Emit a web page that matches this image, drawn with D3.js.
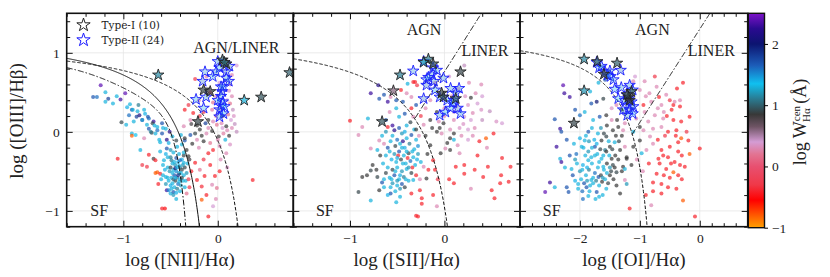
<!DOCTYPE html>
<html>
<head>
<meta charset="utf-8">
<script src="https://cdn.jsdelivr.net/npm/d3@7"></script>
<style>
body{margin:0;background:#fff;}
svg{display:block;}
text{font-family:"Liberation Serif","Times New Roman",serif;fill:#222;}
</style>
</head>
<body>
<svg id="chart" width="830" height="277"></svg>
<script>
// ---- data : [x, log OIII/Hb, log W_Ha] ----
const ptsNII=[[-1.24,0.59,2.4],[-1.19,0.50,1.3],[-1.28,0.44,1.6],[-1.16,0.42,1.8],[-0.98,0.49,2.4],[-1.03,0.41,2.3],[-1.11,0.36,1.3],[-0.93,0.35,1.3],[-0.84,0.34,1.1],[-0.78,0.28,1.3],[-0.91,0.28,1.7],[-0.94,0.21,1.6],[-0.86,0.19,1.8],[-0.89,0.13,1.3],[-0.80,0.15,2.2],[-0.73,0.17,1.6],[-0.75,0.09,1.3],[-0.68,0.13,2.3],[-1.02,0.12,0.9],[-0.97,0.09,1.3],[-0.91,-0.02,1.3],[-0.87,-0.04,1.35],[-0.91,-0.05,-0.8],[-0.78,-0.08,0.3],[-0.73,0.04,1.7],[-0.70,-0.01,0.9],[-0.64,0.02,1.6],[-0.59,-0.02,1.7],[-0.54,-0.10,2.2],[-0.61,-0.13,1.3],[-0.82,-0.23,1.3],[-0.73,-0.29,-0.4],[-1.06,-0.34,-0.4],[-0.80,-0.42,-0.3],[-0.75,-0.44,-0.3],[-0.68,-0.34,0.8],[-0.66,-0.36,-0.4],[-0.61,-0.25,1.3],[-0.54,-0.21,1.7],[-0.57,-0.36,1.3],[-0.50,-0.32,1.1],[-0.64,-0.51,-0.8],[-0.61,-0.53,-0.4],[-0.63,-0.66,-0.4],[-0.55,-0.57,1.3],[-0.54,-0.74,2.3],[-0.50,-0.78,1.3],[-0.47,-0.76,1.7],[-0.56,-0.97,-0.5],
[-1.32,0.44,1.7],[-1.19,0.38,1.3],[-0.90,0.28,1.3],[-0.83,0.21,2.1],[-0.80,0.15,1.3],[-0.74,0.19,1.7],[-0.69,0.11,0.9],[-0.64,0.06,1.3],[-0.59,0.11,1.7],[-0.55,0.04,1.3],[-0.51,0.00,2.2],[-0.66,-0.02,1.3],[-0.71,0.00,1.1],[-0.48,-0.06,1.3],[-0.44,-0.11,0.9],[-0.39,-0.04,1.3],[-0.35,-0.11,1.7],[-0.43,-0.19,1.3],[-0.50,-0.23,1.2],[-0.53,-0.32,1.3],
[-0.48,-0.40,1.3],[-0.45,-0.42,1.2],[-0.42,-0.38,1.4],[-0.40,-0.45,1.1],[-0.47,-0.48,1.3],[-0.44,-0.50,1.5],[-0.41,-0.52,1.2],[-0.38,-0.48,0.9],[-0.36,-0.55,1.3],[-0.46,-0.55,1.7],[-0.49,-0.58,1.3],[-0.43,-0.58,1.1],[-0.40,-0.60,1.4],[-0.37,-0.62,1.3],[-0.45,-0.62,0.9],[-0.48,-0.65,1.3],[-0.42,-0.66,1.6],[-0.39,-0.68,1.2],[-0.46,-0.70,1.3],[-0.43,-0.72,1.1],[-0.50,-0.68,1.4],[-0.52,-0.62,1.3],[-0.51,-0.50,1.2],[-0.53,-0.45,1.3],[-0.35,-0.45,0.9],[-0.33,-0.52,1.2],[-0.32,-0.40,1.3],[-0.38,-0.35,1.4],[-0.44,-0.33,1.7],[-0.41,-0.28,1.3],[-0.36,-0.30,0.9],[-0.30,-0.35,0.8],[-0.34,-0.62,1.3],[-0.40,-0.75,1.3],[-0.47,-0.80,1.2],[-0.44,-0.85,1.3],[-0.52,-0.74,1.5],[-0.55,-0.66,1.2],[-0.56,-0.48,1.4],[-0.58,-0.42,1.3],[-0.49,-0.36,1.1],[-0.45,-0.46,2.0],[-0.42,-0.55,1.9],[-0.38,-0.58,0.9],[-0.35,-0.70,1.3],[-0.50,-0.45,0.9],[-0.47,-0.60,1.0],[-0.60,-0.60,1.3],[-0.58,-0.55,1.3],[-0.41,-0.43,1.3],[-0.31,-0.60,-0.3],[-0.28,-0.50,-0.4],[-0.30,-0.70,-0.3],[-0.33,-0.78,0.2],
[-0.46,-0.38,1.3],[-0.43,-0.45,1.4],[-0.39,-0.52,1.3],[-0.37,-0.42,1.2],[-0.48,-0.52,1.3],[-0.45,-0.58,1.4],[-0.41,-0.63,1.3],[-0.49,-0.72,1.3],[-0.44,-0.77,1.4],[-0.53,-0.58,1.3],[-0.40,-0.36,1.6],[-0.36,-0.26,1.3],[-0.47,-0.26,1.3],[-0.55,-0.28,1.4],[-0.62,-0.10,1.3],[-0.67,0.08,1.3],[-0.77,0.23,1.4],[-0.85,0.26,1.3],[-0.96,0.31,1.4],[-1.07,0.45,1.3],[-0.58,0.05,1.3],[-0.52,-0.14,1.4],
[-0.24,0.67,-0.3],[-0.12,0.70,0.3],[0.20,0.84,0.4],[0.15,0.72,0.3],[0.13,0.60,0.35],[0.15,0.45,0.3],[0.13,0.36,0.2],[0.16,0.28,0.45],[0.11,0.22,0.2],[-0.05,0.37,0.2],[-0.06,0.28,0.25],[-0.35,0.28,-0.4],[-0.31,0.34,-0.3],[-0.29,0.15,0.3],[-0.26,0.24,-0.4],[-0.36,0.07,0.3],[-0.19,0.20,-0.3],[-0.13,0.11,1.8],[-0.10,0.15,0.85],[-0.05,0.13,0.3],[-0.01,0.09,0.2],[0.04,0.11,0.3],[0.09,0.07,0.85],[0.15,0.05,0.3],[0.06,-0.02,0.25],[0.01,-0.06,0.8],[-0.06,0.01,0.85],[-0.12,-0.02,0.3],[-0.19,0.03,0.85],[-0.24,-0.02,0.9],[-0.29,-0.04,1.7],[-0.35,-0.08,0.85],[-0.22,-0.10,0.3],[-0.15,-0.12,0.85],[-0.08,-0.14,0.2],[-0.05,-0.23,-0.4],[0.02,-0.18,0.3],[0.08,-0.10,1.3],[0.13,-0.16,0.35],[0.09,-0.27,0.3],[-0.10,-0.27,-0.4],[-0.15,-0.35,-0.3],[-0.24,-0.39,-0.4],[-0.19,-0.48,0.2],[-0.08,-0.42,-0.4],[-0.03,-0.56,-0.4],[-0.06,-0.67,0.3],[-0.14,-0.56,-0.4],[-0.22,-0.61,-0.4],[-0.17,-0.69,-0.35],[-0.17,-0.86,-0.8],[-0.12,-0.80,-0.4],[-0.10,-1.07,-0.4],[-0.05,-0.94,0.4],[-0.01,-0.71,0.2],[0.02,-0.50,-0.4],[0.37,-0.61,-0.4],[-0.38,-0.16,1.3],[-0.33,-0.23,0.85],[-0.36,-0.39,1.3],[-0.31,-0.31,0.85],[-0.59,-0.97,-0.4],[-0.66,-0.52,-0.8],
[0.08,0.65,0.4],[0.12,0.52,0.35],[0.10,0.40,0.4],[0.04,0.30,0.3],[0.14,0.15,0.4],[0.18,0.10,0.45],[0.05,0.20,0.85],[-0.02,0.20,0.3],[0.10,0.02,0.3],[0.20,0.00,0.45],[0.12,-0.05,0.85],[-0.15,0.25,-0.3],[-0.20,0.40,0.3],[-0.08,0.50,-0.3],[-0.22,0.08,0.85],[-0.28,0.10,0.8],[-0.17,-0.05,0.85],[0.03,-0.35,0.3],[0.10,-0.45,0.35],[-0.02,-0.85,0.3],
[-0.02,0.45,0.35],[0.02,0.62,0.4],[-0.10,0.05,0.3],[0.00,-0.10,0.3],[-0.20,-0.20,0.3],[-0.27,-0.15,0.85],[0.17,0.20,0.35],[0.05,0.05,0.4]];

const ptsSII=[[-1.00,0.14,-0.4],[-0.91,-0.04,0.3],[-0.87,0.06,0.3],[-0.81,0.17,1.3],[-0.78,0.49,2.3],[-0.70,0.59,2.2],[-0.69,0.42,1.7],[-0.64,0.47,1.7],[-0.60,0.38,2.3],[-0.57,0.44,0.3],[-0.51,0.40,1.7],[-0.46,0.53,-0.4],[-0.39,0.61,1.3],[-0.33,0.63,-0.4],[-0.29,0.59,-0.3],[-0.40,0.49,0.3],[-0.35,0.44,0.3],[-0.44,0.38,1.7],[-0.51,0.30,1.3],[-0.58,0.25,0.3],[-0.62,0.15,1.7],[-0.60,0.06,-0.4],[-0.55,0.08,2.3],[-0.48,0.19,1.3],[-0.42,0.23,1.7],[-0.35,0.30,-0.4],[-0.30,0.34,1.7],[-0.33,0.19,0.3],[-0.69,-0.11,0.3],[-0.78,-0.21,0.3],[-0.71,-0.23,1.3],[-0.64,-0.15,0.3],[-0.76,-0.42,0.85],[-0.78,-0.49,0.9],[-0.87,-0.57,0.85],[-0.71,-0.57,0.9],[-0.66,-0.64,1.7],[-0.64,-0.70,1.3],[-0.57,-0.78,1.7],[-0.69,-0.74,0.85],[-0.91,-0.76,0.9],[-0.78,-0.87,1.3],[-0.51,-0.89,1.3],[-0.35,-0.78,-0.4],[-0.26,-0.74,-0.4],[-0.24,-0.91,-0.4],[-0.28,-1.07,-0.4],
[-0.55,-0.05,1.3],[-0.50,-0.10,1.6],[-0.45,-0.02,1.2],[-0.40,-0.08,1.3],[-0.35,-0.04,1.7],[-0.30,-0.10,1.3],[-0.52,-0.18,0.9],[-0.47,-0.15,1.3],[-0.42,-0.20,1.4],[-0.37,-0.15,1.1],[-0.32,-0.22,1.3],[-0.28,-0.18,1.5],[-0.58,-0.25,1.3],[-0.53,-0.28,1.2],[-0.48,-0.25,1.7],[-0.43,-0.30,1.3],[-0.38,-0.27,0.9],[-0.33,-0.32,1.3],[-0.28,-0.28,1.2],[-0.56,-0.35,1.4],[-0.51,-0.38,1.3],[-0.46,-0.35,0.9],[-0.41,-0.40,1.3],[-0.36,-0.37,1.6],[-0.31,-0.42,1.3],[-0.60,-0.45,1.3],[-0.55,-0.48,0.9],[-0.50,-0.45,1.3],[-0.45,-0.50,1.2],[-0.40,-0.47,1.3],[-0.35,-0.52,0.9],[-0.58,-0.58,1.3],[-0.53,-0.55,1.7],[-0.48,-0.60,1.3],[-0.43,-0.57,1.1],[-0.38,-0.62,1.3],[-0.55,-0.65,1.2],[-0.50,-0.68,1.3],[-0.45,-0.66,1.7],[-0.62,-0.52,0.9],[-0.65,-0.40,1.3],[-0.62,-0.30,1.3],[-0.44,-0.12,2.2],[-0.39,-0.33,-0.4],[-0.34,-0.45,-0.4],[-0.49,-0.30,-0.4],[-0.57,-0.70,1.3],[-0.52,-0.75,1.3],[-0.47,-0.72,1.2],[-0.42,-0.70,0.9],[-0.60,-0.20,1.7],[-0.66,-0.05,1.3],[-0.62,0.00,1.2],[-0.27,-0.05,0.3],[-0.25,-0.38,1.3],[-0.30,-0.55,-0.4],[-0.26,-0.60,0.3],[-0.48,0.05,1.7],[-0.40,0.08,1.3],[-0.36,0.12,0.9],[-0.53,0.02,2.2],[-0.68,-0.30,0.85],[-0.72,-0.48,0.85],[-0.82,-0.55,0.85],
[-0.45,-0.20,1.3],[-0.40,-0.25,1.3],[-0.50,-0.33,1.4],[-0.44,-0.40,1.3],[-0.38,-0.45,1.2],[-0.52,-0.50,1.3],[-0.47,-0.55,1.4],[-0.41,-0.60,1.3],[-0.56,-0.60,1.3],[-0.50,-0.62,1.2],[-0.34,-0.25,1.3],[-0.29,-0.35,1.4],[-0.57,-0.12,1.3],[-0.42,0.00,1.4],[-0.32,0.03,1.3],[-0.64,-0.60,1.3],[-0.47,-0.82,1.3],[-0.60,-0.80,1.4],
[-0.31,0.63,-0.4],[-0.19,0.64,0.3],[-0.10,0.62,0.3],[0.21,0.84,0.45],[0.39,0.60,0.3],[0.26,0.62,0.3],[0.33,0.49,0.3],[0.28,0.43,0.85],[0.25,0.34,0.35],[0.35,0.36,0.4],[0.48,0.26,0.45],[0.39,0.28,0.35],[0.30,0.24,0.3],[0.21,0.19,0.4],[0.10,0.15,0.3],[-0.01,0.11,0.85],[-0.06,0.13,0.3],[-0.15,0.15,0.85],[-0.22,0.09,0.3],[-0.30,0.03,0.85],[-0.13,0.05,0.85],[-0.08,0.00,0.85],[-0.03,-0.02,0.3],[0.06,0.03,0.3],[0.16,0.05,0.35],[0.25,0.03,0.4],[0.32,0.05,0.3],[0.61,0.11,0.4],[0.55,0.13,0.35],[0.52,-0.02,-0.4],[0.44,-0.08,-0.8],[0.37,-0.12,-0.4],[0.61,-0.33,-0.4],[0.70,-0.44,-0.4],[0.59,-0.65,-0.4],[0.68,-0.63,-0.4],[0.46,-0.44,-0.4],[0.41,-0.57,-0.4],[0.32,-0.48,-0.4],[0.21,-0.53,-0.4],[0.21,-0.42,-0.4],[0.12,-0.44,-0.4],[0.10,-0.65,-0.4],[0.28,-0.72,0.3],[0.50,-0.74,-0.4],[0.53,-0.84,-0.4],[-0.08,-0.94,0.3],[-0.12,-0.80,-0.4],[-0.24,-0.84,-0.4],[-0.30,-1.06,-0.4],[0.01,-0.21,0.3],[-0.04,-0.27,0.85],[0.06,-0.23,0.85],[0.16,-0.27,0.3],[-0.12,-0.36,-0.4],[-0.17,-0.48,-0.4],[-0.22,-0.44,0.3],[-0.10,-0.48,-0.4],[-0.19,-0.59,0.85],[-0.33,-0.61,1.3],[-0.15,-0.17,0.85],[0.06,-0.08,0.85],[0.14,-0.17,0.3],[0.03,-0.14,0.85],[0.10,-0.10,1.3],
[0.05,0.70,0.4],[0.15,0.55,0.3],[0.22,0.45,0.35],[0.12,0.32,0.3],[0.00,0.30,0.3],[-0.08,0.25,0.85],[-0.20,0.30,0.3],[-0.25,0.20,-0.3],[0.40,0.15,0.45],[0.45,-0.20,0.3],[0.25,-0.10,0.4],[0.08,0.45,0.3],[-0.15,0.40,0.3],[0.05,-0.60,-0.4],[0.60,-0.55,-0.4],[0.35,-0.30,-0.4],[0.18,-0.05,0.3],[-0.20,-0.05,0.85],[-0.18,-0.28,0.85],[-0.07,-0.60,-0.3],
[0.00,0.20,0.3],[0.10,0.25,0.4],[0.20,0.10,0.35],[0.28,0.15,0.4],[-0.05,0.05,0.85],[0.10,-0.02,0.85],[0.30,-0.05,0.3],[0.40,0.45,0.4]];

const ptsOI=[[-2.28,0.59,2.4],[-2.26,0.49,2.3],[-2.17,0.44,2.3],[-1.83,0.51,1.3],[-1.69,0.62,1.3],[-1.58,0.66,1.7],[-2.42,0.16,1.7],[-2.33,0.04,2.3],[-2.31,0.00,1.7],[-2.22,-0.10,1.7],[-2.39,-0.19,2.3],[-2.33,-0.34,1.3],[-2.31,-0.38,2.3],[-2.17,-0.30,1.7],[-2.06,-0.28,1.6],[-2.14,-0.47,1.3],[-2.50,-0.64,2.3],[-2.58,-0.76,2.4],[-2.42,-0.70,1.3],[-2.22,-0.70,1.7],[-2.19,-0.76,1.7],[-2.03,-0.66,1.3],[-2.08,0.28,1.7],[-2.00,0.21,1.6],[-1.92,0.25,1.3],[-1.81,0.36,1.7],[-1.72,0.38,2.0],[-1.61,0.42,0.9],[-1.78,0.15,1.3],[-1.67,0.19,1.7],[-1.56,0.21,0.85],[-1.47,0.30,0.35],[-1.39,0.34,0.3],[-1.31,0.28,0.85],[-1.47,0.15,0.3],[-1.36,0.06,0.85],[-1.25,0.11,0.3],[-1.86,0.00,1.7],[-1.92,-0.11,1.3],[-1.97,-0.19,1.3],[-1.75,-0.19,1.7],[-1.64,-0.11,0.85],[-1.56,-0.06,0.9],[-1.50,-0.19,0.85],[-1.42,-0.13,1.3],[-1.33,-0.23,0.85],[-1.25,-0.19,0.3],[-1.22,-0.34,0.85],[-1.28,-0.44,0.85],[-1.39,-0.51,0.9],[-1.50,-0.55,0.85],[-1.61,-0.44,1.3],[-1.69,-0.57,1.7],[-1.81,-0.61,1.3],[-1.89,-0.70,1.7],[-1.86,-0.81,1.3],[-1.72,-0.76,1.7],[-1.56,-0.72,1.3],[-1.39,-0.68,0.85],[-1.25,-0.61,0.3],[-1.33,-0.78,0.85],[-1.86,-0.36,1.3],[-1.75,-0.30,1.3],[-1.64,-0.34,1.3],[-1.47,-0.34,0.85],[-1.58,-0.23,1.1],
[-2.05,-0.40,1.3],[-2.00,-0.50,1.2],[-1.95,-0.42,1.4],[-1.90,-0.55,1.3],[-1.85,-0.48,1.1],[-1.80,-0.40,1.3],[-1.75,-0.52,1.6],[-1.70,-0.45,1.3],[-1.65,-0.55,0.9],[-1.60,-0.48,1.3],[-1.55,-0.40,0.85],[-1.50,-0.45,1.2],[-1.45,-0.42,0.9],[-1.98,-0.60,1.3],[-1.93,-0.65,1.7],[-1.88,-0.62,1.2],[-1.83,-0.68,1.3],[-1.78,-0.65,1.3],[-1.73,-0.62,1.1],[-1.68,-0.68,1.3],[-1.63,-0.63,0.85],[-1.58,-0.60,1.3],[-1.53,-0.65,0.9],[-2.03,-0.72,1.3],[-1.96,-0.75,1.6],[-1.91,-0.30,1.3],[-1.86,-0.25,1.2],[-1.81,-0.32,1.3],[-1.76,-0.10,1.4],[-1.71,-0.28,1.3],[-1.66,-0.22,0.9],[-1.61,-0.30,1.3],[-1.56,-0.25,0.85],[-1.51,-0.30,1.3],[-1.46,-0.22,0.9],[-1.41,-0.30,0.85],[-1.36,-0.35,0.85],[-1.90,-0.05,1.3],[-1.85,-0.12,1.2],[-1.80,0.05,1.3],[-1.70,-0.02,1.3],[-1.65,0.05,1.2],[-1.60,-0.02,0.9],[-1.55,0.08,0.85],[-1.45,0.02,0.85],[-1.40,-0.05,0.85],[-1.35,-0.12,0.9],[-2.10,-0.15,1.3],[-2.12,-0.55,1.7],[-2.08,-0.35,1.2],[-1.44,-0.60,0.85],[-1.30,-0.50,0.85],[-1.74,-0.85,1.3],[-1.62,-0.80,1.3],[-1.95,-0.85,1.6],[-2.25,-0.45,1.3],
[-1.96,-0.48,1.3],[-1.88,-0.45,1.4],[-1.78,-0.58,1.3],[-1.68,-0.38,1.3],[-1.62,-0.58,1.2],[-1.72,-0.15,1.4],[-1.80,-0.20,1.3],[-1.94,-0.20,1.3],[-2.00,-0.08,1.4],[-1.52,-0.12,1.3],[-1.48,-0.50,0.9],[-1.42,-0.45,0.85],[-1.55,-0.52,1.3],[-2.08,-0.62,1.4],[-1.84,-0.75,1.3],[-1.68,-0.82,1.3],[-1.38,0.15,0.85],[-1.30,-0.05,0.85],
[-0.28,0.62,-0.4],[-0.92,0.64,0.3],[-0.72,0.57,0.3],[-0.84,0.49,0.3],[-0.56,0.47,0.3],[-0.68,0.44,-0.4],[-1.08,0.70,0.4],[-1.00,0.53,0.3],[-0.81,0.38,0.3],[-0.94,0.34,-0.4],[-0.64,0.34,0.3],[-0.44,0.34,-0.4],[-0.47,0.28,-0.4],[-0.33,0.32,-0.4],[-0.17,0.19,-0.4],[-0.31,0.13,-0.4],[-0.44,0.15,-0.4],[-0.61,0.17,0.3],[-0.75,0.21,0.3],[-0.86,0.13,0.3],[-1.00,0.06,0.85],[-0.94,0.02,0.3],[-0.78,0.04,0.3],[-0.64,0.06,0.3],[-0.53,0.00,-0.4],[-0.39,0.02,-0.4],[-0.31,-0.08,-0.8],[-0.19,-0.11,-0.4],[0.00,-0.21,-0.4],[-0.17,-0.28,-0.8],[-0.36,-0.13,-0.4],[-0.50,-0.19,-0.4],[-0.64,-0.23,-0.4],[-0.61,-0.30,-0.4],[-0.69,-0.34,-0.4],[-0.67,-0.40,-0.4],[-0.53,-0.32,-0.4],[-0.42,-0.38,-0.4],[-0.33,-0.42,-0.4],[-0.25,-0.44,-0.4],[-0.44,-0.51,-0.8],[-0.56,-0.47,-0.4],[-0.72,-0.53,-0.4],[-0.78,-0.64,-0.4],[-0.64,-0.66,-0.4],[-0.53,-0.70,-0.4],[-0.39,-0.72,-0.4],[-0.28,-0.87,-0.8],[-0.64,-0.78,-0.4],[-0.81,-0.93,0.3],[-1.17,-0.97,-0.4],[-0.08,-1.07,-0.4],[-0.78,-0.15,0.3],[-0.89,-0.23,0.3],[-1.00,-0.11,0.85],[-1.11,-0.19,0.85],[-1.22,-0.32,0.85],[-1.14,-0.42,0.85],[-1.22,-0.66,1.2],[-1.25,-0.47,1.3],[-0.97,-0.27,1.3],[-1.11,0.00,1.3],[-1.28,0.02,0.3],[-0.83,-0.06,0.3],[-0.92,0.25,0.3],[-1.06,0.17,0.3],[-1.11,0.64,0.3],[-0.33,0.40,0.3],[-0.42,0.38,0.3],[-0.75,0.70,-0.3],
[-0.70,-0.10,-0.4],[-0.58,-0.05,-0.3],[-0.85,-0.40,-0.4],[-0.95,-0.50,0.3],[-0.50,-0.58,-0.4],[-0.36,-0.25,-0.4],[-0.22,0.00,-0.3],[-0.60,0.25,0.3],[-0.50,0.40,-0.3],[-0.38,0.55,-0.4],[-0.78,-0.75,-0.4],[-0.30,-0.60,-0.4],[-1.05,-0.35,0.3],[-0.90,-0.80,-0.4],
[-0.90,0.45,0.3],[-0.70,0.30,0.3],[-0.55,0.20,-0.4],[-0.40,-0.05,-0.4],[-0.30,-0.30,-0.4],[-0.48,-0.40,-0.4],[-0.60,-0.55,-0.4],[-0.36,-0.55,-0.4]];

// Type-I (10) and Type-II (24) AGN
const typeINII=[[-0.63,0.72,1.15],[0.05,0.91,1.0],[0.09,0.86,0.95],[0.07,0.88,1.05],[-0.15,0.53,0.9],[-0.08,0.51,0.9],[-0.21,0.13,0.9],[0.28,0.40,1.3],[0.46,0.44,0.95],[0.76,0.75,1.0]];
const typeIINII=[[-0.135,0.76,1.5],[-0.053,0.70,1.4],[-0.16,0.64,1.6],[-0.23,0.41,1.4],[-0.124,0.44,1.5],[-0.15,0.30,1.3],[0.0,0.89,1.5],[0.018,0.81,1.4],[0.09,0.76,1.6],[0.117,0.64,1.5],[0.06,0.57,1.4],[0.046,0.51,1.6],[0.035,0.45,1.5],[0.053,0.38,1.4],[0.035,0.33,1.5],[0.018,0.28,1.6],[0.06,0.23,1.4],[0.018,0.19,1.5],[0.09,0.68,1.5],[0.0,0.40,1.4],[0.124,0.83,1.6],[-0.018,0.76,1.5],[0.07,0.32,1.4],[0.035,0.57,1.5]];
const typeISII=[[-0.47,0.72,1.1],[-0.54,0.52,0.6],[-0.66,0.13,0.95],[-0.17,0.92,1.1],[-0.22,0.88,1.2],[-0.12,0.86,0.95],[0.17,0.76,0.9],[-0.03,0.49,0.9],[-0.01,0.44,0.95],[0.12,0.42,1.0]];
const typeIISII=[[-0.33,0.77,1.5],[-0.22,0.89,1.4],[-0.12,0.81,1.6],[-0.13,0.72,1.5],[-0.19,0.66,1.4],[-0.11,0.64,1.5],[-0.19,0.59,1.6],[-0.10,0.53,1.4],[-0.01,0.68,1.5],[0.065,0.55,1.5],[0.155,0.55,1.4],[-0.22,0.42,1.6],[-0.05,0.44,1.5],[0.03,0.40,1.4],[0.10,0.40,1.5],[0.14,0.30,1.6],[0.065,0.30,1.4],[-0.05,0.21,1.5],[0.17,0.23,1.5],[0.01,0.25,1.4],[0.12,0.49,1.6],[-0.08,0.78,1.5],[0.09,0.37,1.4],[-0.17,0.69,1.5]];
const typeIOI=[[-1.93,0.92,1.15],[-1.71,0.89,1.0],[-1.93,0.52,1.2],[-2.10,0.11,0.9],[-1.38,0.87,1.0],[-1.60,0.73,0.9],[-1.19,0.44,0.9],[-1.17,0.40,0.85],[-1.14,0.51,0.95],[-1.21,0.47,0.9]];
const typeIIOI=[[-1.72,0.88,1.5],[-1.68,0.81,1.4],[-1.58,0.76,1.6],[-1.50,0.77,1.5],[-1.49,0.70,1.4],[-1.44,0.66,1.5],[-1.32,0.78,1.6],[-1.42,0.54,1.4],[-1.31,0.56,1.5],[-1.17,0.59,1.5],[-1.12,0.53,1.4],[-1.22,0.47,1.6],[-1.18,0.42,1.5],[-1.14,0.38,1.4],[-1.19,0.34,1.5],[-1.17,0.28,1.6],[-1.12,0.23,1.4],[-1.21,0.21,1.5],[-1.25,0.40,1.5],[-1.36,0.42,1.4],[-1.11,0.32,1.6],[-1.64,0.83,1.5],[-1.54,0.72,1.4],[-1.28,0.28,1.5]];

const xLabels=["log ([NII]/H\u03b1)","log ([SII]/H\u03b1)","log ([OI]/H\u03b1)"];
const yTicks=[-1,0,1];
const cbTicks=[-1,0,1,2];
// colormap stops for log W
const cmapVals=[-1.0,-0.8,-0.55,-0.3,0.0,0.2,0.4,0.65,0.85,1.1,1.35,1.65,2.0,2.25,2.5];
const cmapCols=["#ffa000","#ff5a00","#ff0000","#f03848","#e85070","#e27492","#d49cd4","#6e5464","#383838","#2a7a90","#10c0f0","#1c5cb8","#0c1470","#2a0a90","#7d12c8"];

// ---- layout ----
const svg=d3.select("#chart");
const yTop=13.3, yBot=226.7;
const color=d3.scaleLinear().domain(cmapVals).range(cmapCols).clamp(true);
const y=d3.scaleLinear().domain([-1.2,1.5]).range([yBot,yTop]);

const panels=[
  {x0:66.7,x1:293.3,dom:[-1.6,0.8],xt:[-1,0],pts:ptsNII,t1:typeINII,t2:typeIINII},
  {x0:293.3,x1:520,dom:[-1.6,0.8],xt:[-1,0],pts:ptsSII,t1:typeISII,t2:typeIISII},
  {x0:520,x1:747.7,dom:[-3.0,0.8],xt:[-2,-1,0],pts:ptsOI,t1:typeIOI,t2:typeIIOI}
];

const star=d3.symbol().type(d3.symbolStar);

panels.forEach((p,i)=>{
  const x=d3.scaleLinear().domain(p.dom).range([p.x0,p.x1]);
  p.x=x;
  const g=svg.append("g");
  const cid="clip"+i;
  svg.append("clipPath").attr("id",cid).append("rect")
    .attr("x",p.x0).attr("y",yTop).attr("width",p.x1-p.x0).attr("height",yBot-yTop);

  // grid
  g.selectAll(".gx").data(p.xt).enter().append("line")
    .attr("x1",d=>x(d)).attr("x2",d=>x(d)).attr("y1",yTop).attr("y2",yBot)
    .attr("stroke","#e6e6e6").attr("stroke-width",0.8);
  g.selectAll(".gy").data(yTicks).enter().append("line")
    .attr("x1",p.x0).attr("x2",p.x1).attr("y1",d=>y(d)).attr("y2",d=>y(d))
    .attr("stroke","#e6e6e6").attr("stroke-width",0.8);

  const inner=g.append("g").attr("clip-path","url(#"+cid+")");

  // points
  inner.selectAll(".pt").data(p.pts).enter().append("circle")
    .attr("cx",d=>x(d[0])).attr("cy",d=>y(d[1])).attr("r",2)
    .attr("fill",d=>color(d[2])).attr("fill-opacity",0.7);

  // demarcation lines
  const line=d3.line().x(d=>x(d[0])).y(d=>y(d[1]));
  function curve(f,xa,xb,dash){
    const xs=d3.range(xa,xb,0.005);
    inner.append("path").datum(xs.map(v=>[v,f(v)]).filter(d=>d[1]>-3))
      .attr("d",line).attr("fill","none").attr("stroke","#111")
      .attr("stroke-width",1).attr("stroke-dasharray",dash);
  }
  if(i==0){
    curve(v=>0.61/(v-0.05)+1.3,-1.6,0.0,null);
    curve(v=>0.61/(v-0.47)+1.19,-1.6,0.4,"3.5,1.8");
    curve(v=>(-30.787+1.1358*v+0.27297*v*v)*Math.tanh(5.7409*v)-31.093,-1.6,-0.3,"6,2,1.5,2");
  }else if(i==1){
    curve(v=>0.72/(v-0.32)+1.30,-1.6,0.3,"3.5,1.8");
    curve(v=>1.89*v+0.76,-0.31,0.42,"6,2,1.5,2");
  }else{
    curve(v=>0.73/(v+0.59)+1.33,-3.0,-0.62,"3.5,1.8");
    curve(v=>1.18*v+1.30,-1.13,0.2,"6,2,1.5,2");
  }

  // AGN stars
  inner.selectAll(".s2").data(p.t2).enter().append("path")
    .attr("d",star.size(40)()).attr("transform",d=>`translate(${x(d[0])},${y(d[1])})`)
    .attr("fill",d=>color(d[2])).attr("fill-opacity",0.3)
    .attr("stroke","#1a1aff").attr("stroke-width",0.9);
  inner.selectAll(".s1").data(p.t1).enter().append("path")
    .attr("d",star.size(40)()).attr("transform",d=>`translate(${x(d[0])},${y(d[1])})`)
    .attr("fill",d=>color(d[2])).attr("fill-opacity",0.7)
    .attr("stroke","#222").attr("stroke-width",0.9);

  // ticks (inward, all sides)
  const xMinor=d3.range(Math.ceil(p.dom[0]/0.2)*0.2,p.dom[1]+1e-9,0.2).filter(v=>!p.xt.some(t=>Math.abs(t-v)<1e-6));
  const yMinor=d3.range(-1.2,1.5+1e-9,0.2).filter(v=>!yTicks.some(t=>Math.abs(t-v)<1e-6));
  g.append("g").attr("transform",`translate(0,${yBot})`)
    .call(d3.axisBottom(x).tickValues(p.xt).tickSize(-6).tickPadding(7).tickFormat(d3.format("d")));
  g.append("g").attr("transform",`translate(0,${yBot})`)
    .call(d3.axisBottom(x).tickValues(xMinor).tickSize(-3.5).tickFormat(""));
  g.append("g").attr("transform",`translate(0,${yTop})`)
    .call(d3.axisTop(x).tickValues(p.xt).tickSize(-6).tickFormat(""));
  g.append("g").attr("transform",`translate(0,${yTop})`)
    .call(d3.axisTop(x).tickValues(xMinor).tickSize(-3.5).tickFormat(""));
  g.append("g").attr("transform",`translate(${p.x0},0)`)
    .call(d3.axisLeft(y).tickValues(yTicks).tickSize(-6).tickPadding(7).tickFormat(i==0?d3.format("d"):""));
  g.append("g").attr("transform",`translate(${p.x0},0)`)
    .call(d3.axisLeft(y).tickValues(yMinor).tickSize(-3.5).tickFormat(""));
  g.append("g").attr("transform",`translate(${p.x1},0)`)
    .call(d3.axisRight(y).tickValues(yTicks).tickSize(-6).tickFormat(""));
  g.append("g").attr("transform",`translate(${p.x1},0)`)
    .call(d3.axisRight(y).tickValues(yMinor).tickSize(-3.5).tickFormat(""));
  g.selectAll(".domain").remove();
  g.selectAll(".tick line").attr("stroke","#111").attr("stroke-width",1);
  g.selectAll(".tick text").style("font-family","'Liberation Serif',serif").style("font-size","13.5px").attr("fill","#222");

  // frame
  g.append("rect").attr("x",p.x0).attr("y",yTop).attr("width",p.x1-p.x0).attr("height",yBot-yTop)
    .attr("fill","none").attr("stroke","#111").attr("stroke-width",1.6);

  // x label
  svg.append("text").attr("x",(p.x0+p.x1)/2).attr("y",266).attr("text-anchor","middle")
    .style("font-size","19px").text(xLabels[i]);
});

// region labels
function lab(pi,xv,yv,t){
  const p=panels[pi];
  svg.append("text").attr("x",p.x(xv)).attr("y",y(yv)).style("font-size","16px").text(t);
}
lab(0,-0.26,1.0,"AGN/LINER");
lab(0,-1.35,-1.06,"SF");
lab(1,-0.40,1.23,"AGN");
lab(1,0.18,0.96,"LINER");
lab(1,-1.36,-1.06,"SF");
lab(2,-1.08,1.23,"AGN");
lab(2,-0.20,0.96,"LINER");
lab(2,-2.62,-1.06,"SF");

// y label
svg.append("text").attr("transform","translate(23,121) rotate(-90)").attr("text-anchor","middle")
  .style("font-size","19px").text("log ([OIII]/H\u03b2)");

// legend
const leg=[["Type-I (10)","#222"],["Type-II (24)","#1a1aff"]];
leg.forEach((l,k)=>{
  svg.append("path").attr("d",star.size(55)()).attr("transform",`translate(83.5,${25+k*15})`)
    .attr("fill","none").attr("stroke",l[1]).attr("stroke-width",1);
  svg.append("text").attr("x",101.5).attr("y",29+k*15).style("font-size","10.5px")
    .style("font-family","'DejaVu Serif',serif").attr("fill","#333").text(l[0]);
});

// colorbar
const cb0=748.3,cb1=764.5;
const cy=d3.scaleLinear().domain([-1,2.5]).range([227.7,13.3]);
const grad=svg.append("defs").append("linearGradient").attr("id","cbg")
  .attr("x1",0).attr("y1",1).attr("x2",0).attr("y2",0);
grad.selectAll("stop").data(cmapVals).enter().append("stop")
  .attr("offset",d=>(d+1)/3.5).attr("stop-color",d=>color(d));
svg.append("rect").attr("x",cb0).attr("y",cy(2.5)).attr("width",cb1-cb0).attr("height",cy(-1)-cy(2.5))
  .attr("fill","url(#cbg)").attr("stroke","#111").attr("stroke-width",1.4);
const cbAx=svg.append("g").attr("transform",`translate(${cb1},0)`)
  .call(d3.axisRight(cy).tickValues(cbTicks).tickSize(3.5).tickPadding(4).tickFormat(d3.format("d")));
cbAx.select(".domain").remove();
cbAx.selectAll(".tick text").style("font-family","'Liberation Serif',serif").style("font-size","13.5px").attr("fill","#222");

const cbl=svg.append("text").attr("transform","translate(806,122) rotate(-90)").attr("text-anchor","middle")
  .style("font-size","18px");
cbl.append("tspan").text("log W");
cbl.append("tspan").attr("dy",-6).style("font-size","11px").text("cen");
cbl.append("tspan").attr("dx",-16).attr("dy",10).style("font-size","11px").text("H\u03b1");
cbl.append("tspan").attr("dy",-4).text(" (\u00c5)");
</script>
</body>
</html>
